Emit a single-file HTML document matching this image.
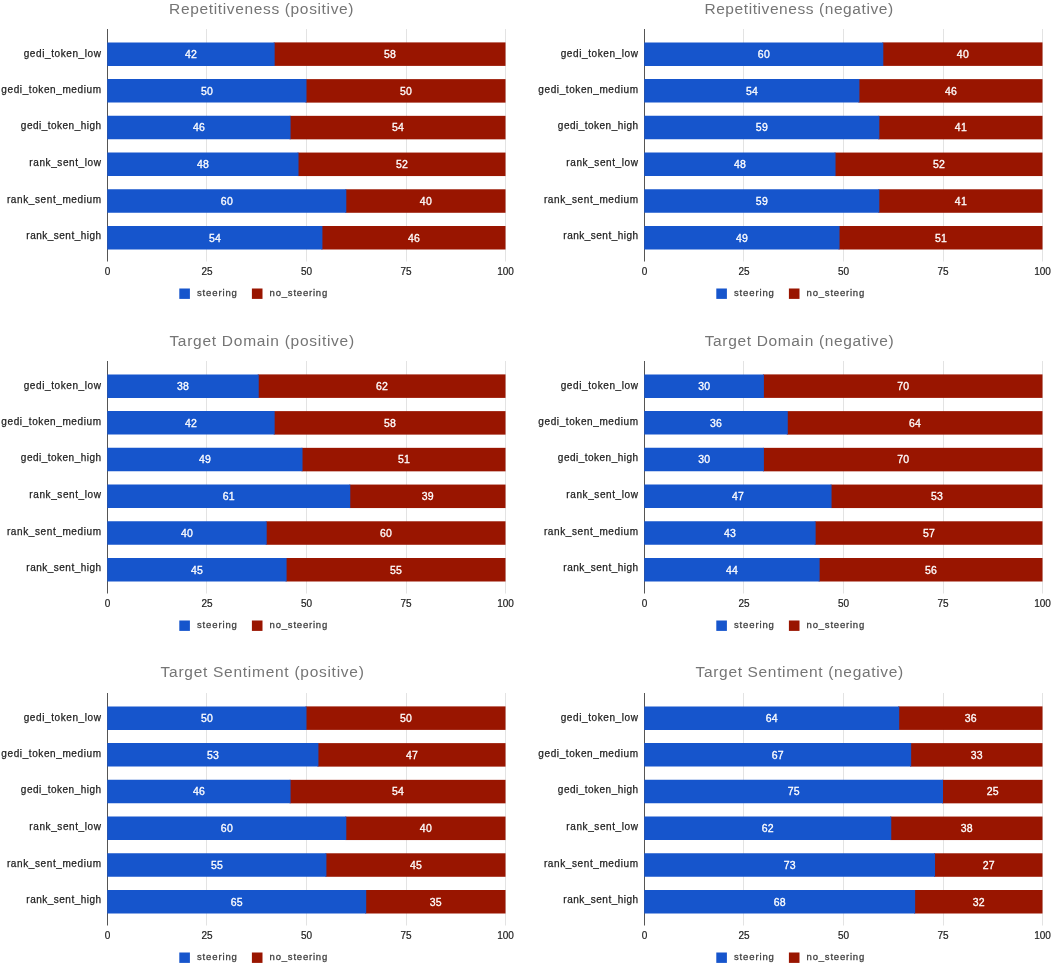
<!DOCTYPE html>
<html><head><meta charset="utf-8"><title>charts</title>
<style>
html,body{margin:0;padding:0;background:#fff;}
body{width:1052px;height:965px;overflow:hidden;position:relative;}
svg{position:absolute;left:0;top:0;font-family:"Liberation Sans",sans-serif;filter:blur(0.4px);}
.t{font-size:15.5px;fill:#757575;}
.c{font-size:10px;fill:#222;stroke:#222;stroke-width:.25px;text-anchor:end;letter-spacing:0.6px;}
.k{font-size:10px;fill:#222;stroke:#222;stroke-width:.2px;text-anchor:middle;}
.v{font-size:10.5px;fill:#fff;stroke:#fff;stroke-width:.3px;text-anchor:middle;letter-spacing:.2px;}
.l{font-size:9.5px;fill:#404040;stroke:#404040;stroke-width:.28px;letter-spacing:0.95px;}
.g{stroke:#e3e3e3;stroke-width:1;}
.a{stroke:#555;stroke-width:1;}
</style></head><body>
<svg width="1052" height="965" viewBox="0 0 1052 965">
<g transform="translate(0,0)">
<text class="t" x="169.1" y="14" textLength="184.4" lengthAdjust="spacing">Repetitiveness (positive)</text>
<line class="g" x1="206.5" y1="29" x2="206.5" y2="261.5"/>
<line class="g" x1="306.5" y1="29" x2="306.5" y2="261.5"/>
<line class="g" x1="406.5" y1="29" x2="406.5" y2="261.5"/>
<line class="g" x1="505.5" y1="29" x2="505.5" y2="261.5"/>
<line class="a" x1="107.5" y1="29" x2="107.5" y2="261.5"/>
<rect x="273.66" y="42.40" width="231.84" height="23.5" fill="#991500"/><path d="M107.25 42.40H274.66V65.90H107.25z" fill="#1655cc"/>
<text class="c" x="101.6" y="57">gedi_token_low</text><text class="v" x="191.08" y="58.05">42</text><text class="v" x="390.08" y="58.05">58</text>
<rect x="305.50" y="79.12" width="200.00" height="23.5" fill="#991500"/><path d="M107.25 79.12H306.50V102.62H107.25z" fill="#1655cc"/>
<text class="c" x="101.6" y="93">gedi_token_medium</text><text class="v" x="207.00" y="94.77">50</text><text class="v" x="406.00" y="94.77">50</text>
<rect x="289.58" y="115.84" width="215.92" height="23.5" fill="#991500"/><path d="M107.25 115.84H290.58V139.34H107.25z" fill="#1655cc"/>
<text class="c" x="101.6" y="129" style="letter-spacing:.49px">gedi_token_high</text><text class="v" x="199.04" y="131.49">46</text><text class="v" x="398.04" y="131.49">54</text>
<rect x="297.54" y="152.56" width="207.96" height="23.5" fill="#991500"/><path d="M107.25 152.56H298.54V176.06H107.25z" fill="#1655cc"/>
<text class="c" x="101.6" y="166">rank_sent_low</text><text class="v" x="203.02" y="168.21">48</text><text class="v" x="402.02" y="168.21">52</text>
<rect x="345.30" y="189.28" width="160.20" height="23.5" fill="#991500"/><path d="M107.25 189.28H346.30V212.78H107.25z" fill="#1655cc"/>
<text class="c" x="101.6" y="203">rank_sent_medium</text><text class="v" x="226.90" y="204.93">60</text><text class="v" x="425.90" y="204.93">40</text>
<rect x="321.42" y="226.00" width="184.08" height="23.5" fill="#991500"/><path d="M107.25 226.00H322.42V249.50H107.25z" fill="#1655cc"/>
<text class="c" x="101.6" y="239" style="letter-spacing:.49px">rank_sent_high</text><text class="v" x="214.96" y="241.65">54</text><text class="v" x="413.96" y="241.65">46</text>
<text class="k" x="107.5" y="275">0</text><text class="k" x="207.0" y="275">25</text><text class="k" x="306.5" y="275">50</text><text class="k" x="406.0" y="275">75</text><text class="k" x="505.5" y="275">100</text>
<rect x="179.3" y="288.5" width="10.6" height="10.4" fill="#1655cc"/><text class="l" x="197" y="296" style="letter-spacing:.86px">steering</text><rect x="251.9" y="288.5" width="10.6" height="10.4" fill="#991500"/><text class="l" x="269.6" y="296" style="letter-spacing:.8px">no_steering</text>
</g>
<g transform="translate(537,0)">
<text class="t" x="167.4" y="14" textLength="188.7" lengthAdjust="spacing">Repetitiveness (negative)</text>
<line class="g" x1="206.5" y1="29" x2="206.5" y2="261.5"/>
<line class="g" x1="306.5" y1="29" x2="306.5" y2="261.5"/>
<line class="g" x1="406.5" y1="29" x2="406.5" y2="261.5"/>
<line class="g" x1="505.5" y1="29" x2="505.5" y2="261.5"/>
<line class="a" x1="107.5" y1="29" x2="107.5" y2="261.5"/>
<rect x="345.30" y="42.40" width="160.20" height="23.5" fill="#991500"/><path d="M107.25 42.40H346.30V65.90H107.25z" fill="#1655cc"/>
<text class="c" x="101.6" y="57">gedi_token_low</text><text class="v" x="226.90" y="58.05">60</text><text class="v" x="425.90" y="58.05">40</text>
<rect x="321.42" y="79.12" width="184.08" height="23.5" fill="#991500"/><path d="M107.25 79.12H322.42V102.62H107.25z" fill="#1655cc"/>
<text class="c" x="101.6" y="93">gedi_token_medium</text><text class="v" x="214.96" y="94.77">54</text><text class="v" x="413.96" y="94.77">46</text>
<rect x="341.32" y="115.84" width="164.18" height="23.5" fill="#991500"/><path d="M107.25 115.84H342.32V139.34H107.25z" fill="#1655cc"/>
<text class="c" x="101.6" y="129" style="letter-spacing:.49px">gedi_token_high</text><text class="v" x="224.91" y="131.49">59</text><text class="v" x="423.91" y="131.49">41</text>
<rect x="297.54" y="152.56" width="207.96" height="23.5" fill="#991500"/><path d="M107.25 152.56H298.54V176.06H107.25z" fill="#1655cc"/>
<text class="c" x="101.6" y="166">rank_sent_low</text><text class="v" x="203.02" y="168.21">48</text><text class="v" x="402.02" y="168.21">52</text>
<rect x="341.32" y="189.28" width="164.18" height="23.5" fill="#991500"/><path d="M107.25 189.28H342.32V212.78H107.25z" fill="#1655cc"/>
<text class="c" x="101.6" y="203">rank_sent_medium</text><text class="v" x="224.91" y="204.93">59</text><text class="v" x="423.91" y="204.93">41</text>
<rect x="301.52" y="226.00" width="203.98" height="23.5" fill="#991500"/><path d="M107.25 226.00H302.52V249.50H107.25z" fill="#1655cc"/>
<text class="c" x="101.6" y="239" style="letter-spacing:.49px">rank_sent_high</text><text class="v" x="205.01" y="241.65">49</text><text class="v" x="404.01" y="241.65">51</text>
<text class="k" x="107.5" y="275">0</text><text class="k" x="207.0" y="275">25</text><text class="k" x="306.5" y="275">50</text><text class="k" x="406.0" y="275">75</text><text class="k" x="505.5" y="275">100</text>
<rect x="179.3" y="288.5" width="10.6" height="10.4" fill="#1655cc"/><text class="l" x="197" y="296" style="letter-spacing:.86px">steering</text><rect x="251.9" y="288.5" width="10.6" height="10.4" fill="#991500"/><text class="l" x="269.6" y="296" style="letter-spacing:.8px">no_steering</text>
</g>
<g transform="translate(0,332)">
<text class="t" x="169.4" y="14" textLength="184.7" lengthAdjust="spacing">Target Domain (positive)</text>
<line class="g" x1="206.5" y1="29" x2="206.5" y2="261.5"/>
<line class="g" x1="306.5" y1="29" x2="306.5" y2="261.5"/>
<line class="g" x1="406.5" y1="29" x2="406.5" y2="261.5"/>
<line class="g" x1="505.5" y1="29" x2="505.5" y2="261.5"/>
<line class="a" x1="107.5" y1="29" x2="107.5" y2="261.5"/>
<rect x="257.74" y="42.40" width="247.76" height="23.5" fill="#991500"/><path d="M107.25 42.40H258.74V65.90H107.25z" fill="#1655cc"/>
<text class="c" x="101.6" y="57">gedi_token_low</text><text class="v" x="183.12" y="58.05">38</text><text class="v" x="382.12" y="58.05">62</text>
<rect x="273.66" y="79.12" width="231.84" height="23.5" fill="#991500"/><path d="M107.25 79.12H274.66V102.62H107.25z" fill="#1655cc"/>
<text class="c" x="101.6" y="93">gedi_token_medium</text><text class="v" x="191.08" y="94.77">42</text><text class="v" x="390.08" y="94.77">58</text>
<rect x="301.52" y="115.84" width="203.98" height="23.5" fill="#991500"/><path d="M107.25 115.84H302.52V139.34H107.25z" fill="#1655cc"/>
<text class="c" x="101.6" y="129" style="letter-spacing:.49px">gedi_token_high</text><text class="v" x="205.01" y="131.49">49</text><text class="v" x="404.01" y="131.49">51</text>
<rect x="349.28" y="152.56" width="156.22" height="23.5" fill="#991500"/><path d="M107.25 152.56H350.28V176.06H107.25z" fill="#1655cc"/>
<text class="c" x="101.6" y="166">rank_sent_low</text><text class="v" x="228.89" y="168.21">61</text><text class="v" x="427.89" y="168.21">39</text>
<rect x="265.70" y="189.28" width="239.80" height="23.5" fill="#991500"/><path d="M107.25 189.28H266.70V212.78H107.25z" fill="#1655cc"/>
<text class="c" x="101.6" y="203">rank_sent_medium</text><text class="v" x="187.10" y="204.93">40</text><text class="v" x="386.10" y="204.93">60</text>
<rect x="285.60" y="226.00" width="219.90" height="23.5" fill="#991500"/><path d="M107.25 226.00H286.60V249.50H107.25z" fill="#1655cc"/>
<text class="c" x="101.6" y="239" style="letter-spacing:.49px">rank_sent_high</text><text class="v" x="197.05" y="241.65">45</text><text class="v" x="396.05" y="241.65">55</text>
<text class="k" x="107.5" y="275">0</text><text class="k" x="207.0" y="275">25</text><text class="k" x="306.5" y="275">50</text><text class="k" x="406.0" y="275">75</text><text class="k" x="505.5" y="275">100</text>
<rect x="179.3" y="288.5" width="10.6" height="10.4" fill="#1655cc"/><text class="l" x="197" y="296" style="letter-spacing:.86px">steering</text><rect x="251.9" y="288.5" width="10.6" height="10.4" fill="#991500"/><text class="l" x="269.6" y="296" style="letter-spacing:.8px">no_steering</text>
</g>
<g transform="translate(537,332)">
<text class="t" x="167.7" y="14" textLength="189.0" lengthAdjust="spacing">Target Domain (negative)</text>
<line class="g" x1="206.5" y1="29" x2="206.5" y2="261.5"/>
<line class="g" x1="306.5" y1="29" x2="306.5" y2="261.5"/>
<line class="g" x1="406.5" y1="29" x2="406.5" y2="261.5"/>
<line class="g" x1="505.5" y1="29" x2="505.5" y2="261.5"/>
<line class="a" x1="107.5" y1="29" x2="107.5" y2="261.5"/>
<rect x="225.90" y="42.40" width="279.60" height="23.5" fill="#991500"/><path d="M107.25 42.40H226.90V65.90H107.25z" fill="#1655cc"/>
<text class="c" x="101.6" y="57">gedi_token_low</text><text class="v" x="167.20" y="58.05">30</text><text class="v" x="366.20" y="58.05">70</text>
<rect x="249.78" y="79.12" width="255.72" height="23.5" fill="#991500"/><path d="M107.25 79.12H250.78V102.62H107.25z" fill="#1655cc"/>
<text class="c" x="101.6" y="93">gedi_token_medium</text><text class="v" x="179.14" y="94.77">36</text><text class="v" x="378.14" y="94.77">64</text>
<rect x="225.90" y="115.84" width="279.60" height="23.5" fill="#991500"/><path d="M107.25 115.84H226.90V139.34H107.25z" fill="#1655cc"/>
<text class="c" x="101.6" y="129" style="letter-spacing:.49px">gedi_token_high</text><text class="v" x="167.20" y="131.49">30</text><text class="v" x="366.20" y="131.49">70</text>
<rect x="293.56" y="152.56" width="211.94" height="23.5" fill="#991500"/><path d="M107.25 152.56H294.56V176.06H107.25z" fill="#1655cc"/>
<text class="c" x="101.6" y="166">rank_sent_low</text><text class="v" x="201.03" y="168.21">47</text><text class="v" x="400.03" y="168.21">53</text>
<rect x="277.64" y="189.28" width="227.86" height="23.5" fill="#991500"/><path d="M107.25 189.28H278.64V212.78H107.25z" fill="#1655cc"/>
<text class="c" x="101.6" y="203">rank_sent_medium</text><text class="v" x="193.07" y="204.93">43</text><text class="v" x="392.07" y="204.93">57</text>
<rect x="281.62" y="226.00" width="223.88" height="23.5" fill="#991500"/><path d="M107.25 226.00H282.62V249.50H107.25z" fill="#1655cc"/>
<text class="c" x="101.6" y="239" style="letter-spacing:.49px">rank_sent_high</text><text class="v" x="195.06" y="241.65">44</text><text class="v" x="394.06" y="241.65">56</text>
<text class="k" x="107.5" y="275">0</text><text class="k" x="207.0" y="275">25</text><text class="k" x="306.5" y="275">50</text><text class="k" x="406.0" y="275">75</text><text class="k" x="505.5" y="275">100</text>
<rect x="179.3" y="288.5" width="10.6" height="10.4" fill="#1655cc"/><text class="l" x="197" y="296" style="letter-spacing:.86px">steering</text><rect x="251.9" y="288.5" width="10.6" height="10.4" fill="#991500"/><text class="l" x="269.6" y="296" style="letter-spacing:.8px">no_steering</text>
</g>
<g transform="translate(0,664)">
<text class="t" x="160.6" y="13.4" textLength="203.2" lengthAdjust="spacing">Target Sentiment (positive)</text>
<line class="g" x1="206.5" y1="29" x2="206.5" y2="261.5"/>
<line class="g" x1="306.5" y1="29" x2="306.5" y2="261.5"/>
<line class="g" x1="406.5" y1="29" x2="406.5" y2="261.5"/>
<line class="g" x1="505.5" y1="29" x2="505.5" y2="261.5"/>
<line class="a" x1="107.5" y1="29" x2="107.5" y2="261.5"/>
<rect x="305.50" y="42.40" width="200.00" height="23.5" fill="#991500"/><path d="M107.25 42.40H306.50V65.90H107.25z" fill="#1655cc"/>
<text class="c" x="101.6" y="57">gedi_token_low</text><text class="v" x="207.00" y="58.05">50</text><text class="v" x="406.00" y="58.05">50</text>
<rect x="317.44" y="79.12" width="188.06" height="23.5" fill="#991500"/><path d="M107.25 79.12H318.44V102.62H107.25z" fill="#1655cc"/>
<text class="c" x="101.6" y="93">gedi_token_medium</text><text class="v" x="212.97" y="94.77">53</text><text class="v" x="411.97" y="94.77">47</text>
<rect x="289.58" y="115.84" width="215.92" height="23.5" fill="#991500"/><path d="M107.25 115.84H290.58V139.34H107.25z" fill="#1655cc"/>
<text class="c" x="101.6" y="129" style="letter-spacing:.49px">gedi_token_high</text><text class="v" x="199.04" y="131.49">46</text><text class="v" x="398.04" y="131.49">54</text>
<rect x="345.30" y="152.56" width="160.20" height="23.5" fill="#991500"/><path d="M107.25 152.56H346.30V176.06H107.25z" fill="#1655cc"/>
<text class="c" x="101.6" y="166">rank_sent_low</text><text class="v" x="226.90" y="168.21">60</text><text class="v" x="425.90" y="168.21">40</text>
<rect x="325.40" y="189.28" width="180.10" height="23.5" fill="#991500"/><path d="M107.25 189.28H326.40V212.78H107.25z" fill="#1655cc"/>
<text class="c" x="101.6" y="203">rank_sent_medium</text><text class="v" x="216.95" y="204.93">55</text><text class="v" x="415.95" y="204.93">45</text>
<rect x="365.20" y="226.00" width="140.30" height="23.5" fill="#991500"/><path d="M107.25 226.00H366.20V249.50H107.25z" fill="#1655cc"/>
<text class="c" x="101.6" y="239" style="letter-spacing:.49px">rank_sent_high</text><text class="v" x="236.85" y="241.65">65</text><text class="v" x="435.85" y="241.65">35</text>
<text class="k" x="107.5" y="275">0</text><text class="k" x="207.0" y="275">25</text><text class="k" x="306.5" y="275">50</text><text class="k" x="406.0" y="275">75</text><text class="k" x="505.5" y="275">100</text>
<rect x="179.3" y="288.5" width="10.6" height="10.4" fill="#1655cc"/><text class="l" x="197" y="296" style="letter-spacing:.86px">steering</text><rect x="251.9" y="288.5" width="10.6" height="10.4" fill="#991500"/><text class="l" x="269.6" y="296" style="letter-spacing:.8px">no_steering</text>
</g>
<g transform="translate(537,664)">
<text class="t" x="158.6" y="13.4" textLength="207.5" lengthAdjust="spacing">Target Sentiment (negative)</text>
<line class="g" x1="206.5" y1="29" x2="206.5" y2="261.5"/>
<line class="g" x1="306.5" y1="29" x2="306.5" y2="261.5"/>
<line class="g" x1="406.5" y1="29" x2="406.5" y2="261.5"/>
<line class="g" x1="505.5" y1="29" x2="505.5" y2="261.5"/>
<line class="a" x1="107.5" y1="29" x2="107.5" y2="261.5"/>
<rect x="361.22" y="42.40" width="144.28" height="23.5" fill="#991500"/><path d="M107.25 42.40H362.22V65.90H107.25z" fill="#1655cc"/>
<text class="c" x="101.6" y="57">gedi_token_low</text><text class="v" x="234.86" y="58.05">64</text><text class="v" x="433.86" y="58.05">36</text>
<rect x="373.16" y="79.12" width="132.34" height="23.5" fill="#991500"/><path d="M107.25 79.12H374.16V102.62H107.25z" fill="#1655cc"/>
<text class="c" x="101.6" y="93">gedi_token_medium</text><text class="v" x="240.83" y="94.77">67</text><text class="v" x="439.83" y="94.77">33</text>
<rect x="405.00" y="115.84" width="100.50" height="23.5" fill="#991500"/><path d="M107.25 115.84H406.00V139.34H107.25z" fill="#1655cc"/>
<text class="c" x="101.6" y="129" style="letter-spacing:.49px">gedi_token_high</text><text class="v" x="256.75" y="131.49">75</text><text class="v" x="455.75" y="131.49">25</text>
<rect x="353.26" y="152.56" width="152.24" height="23.5" fill="#991500"/><path d="M107.25 152.56H354.26V176.06H107.25z" fill="#1655cc"/>
<text class="c" x="101.6" y="166">rank_sent_low</text><text class="v" x="230.88" y="168.21">62</text><text class="v" x="429.88" y="168.21">38</text>
<rect x="397.04" y="189.28" width="108.46" height="23.5" fill="#991500"/><path d="M107.25 189.28H398.04V212.78H107.25z" fill="#1655cc"/>
<text class="c" x="101.6" y="203">rank_sent_medium</text><text class="v" x="252.77" y="204.93">73</text><text class="v" x="451.77" y="204.93">27</text>
<rect x="377.14" y="226.00" width="128.36" height="23.5" fill="#991500"/><path d="M107.25 226.00H378.14V249.50H107.25z" fill="#1655cc"/>
<text class="c" x="101.6" y="239" style="letter-spacing:.49px">rank_sent_high</text><text class="v" x="242.82" y="241.65">68</text><text class="v" x="441.82" y="241.65">32</text>
<text class="k" x="107.5" y="275">0</text><text class="k" x="207.0" y="275">25</text><text class="k" x="306.5" y="275">50</text><text class="k" x="406.0" y="275">75</text><text class="k" x="505.5" y="275">100</text>
<rect x="179.3" y="288.5" width="10.6" height="10.4" fill="#1655cc"/><text class="l" x="197" y="296" style="letter-spacing:.86px">steering</text><rect x="251.9" y="288.5" width="10.6" height="10.4" fill="#991500"/><text class="l" x="269.6" y="296" style="letter-spacing:.8px">no_steering</text>
</g>
</svg>
</body></html>
